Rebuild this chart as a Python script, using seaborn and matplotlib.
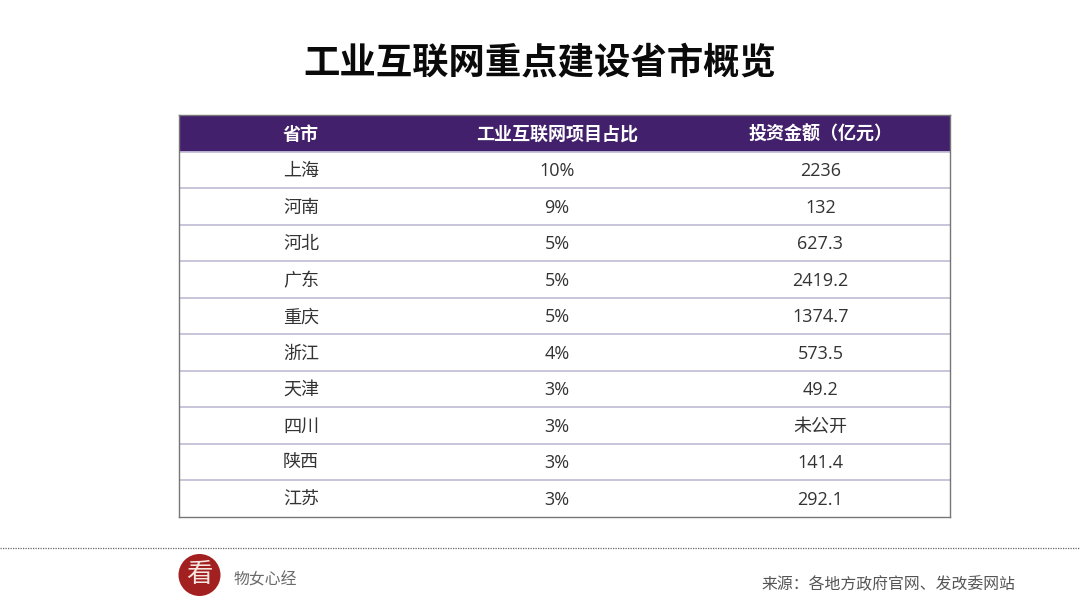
import matplotlib
matplotlib.use("Agg")
import matplotlib.pyplot as plt
from matplotlib.patches import Circle
import seaborn as sns

sns.set_theme(style="white")
plt.rcParams['font.family'] = ['Open Sans', 'Noto Sans CJK SC', 'DejaVu Sans']

title = "工业互联网重点建设省市概览"
headers = ["省市", "工业互联网项目占比", "投资金额（亿元）"]
provinces = ["上海", "河南", "河北", "广东", "重庆", "浙江", "天津", "四川", "陕西", "江苏"]
shares = ["10%", "9%", "5%", "5%", "5%", "4%", "3%", "3%", "3%", "3%"]
amounts = ["2236", "132", "627.3", "2419.2", "1374.7", "573.5", "49.2", "未公开", "141.4", "292.1"]
source = "来源：各地方政府官网、发改委网站"
brand = "物女心经"
logo_char = "看"

W, H = 1080, 607
fig = plt.figure(figsize=(W / 100, H / 100), dpi=100, facecolor="white")

# full-page pixel layer
bg = fig.add_axes([0, 0, 1, 1])
bg.set_xlim(0, W)
bg.set_ylim(H, 0)
bg.axis("off")
bg.text(540, 74, title, ha="center", va="baseline", fontsize=26.2, fontweight="bold", color="#0a0a0a")
bg.plot([0, W], [548, 548], color="#666666", lw=0.9, ls=(0, (1, 1)))
bg.add_patch(Circle((199.5, 575), 21, facecolor="#a32020", edgecolor="none"))
bg.text(199.5, 575, logo_char, ha="center", va="center", fontsize=19, color="#f5e6e0")
bg.text(234, 585, brand, ha="left", va="baseline", fontsize=11.4, color="#6a6a6a")
bg.text(1015, 589, source, ha="right", va="baseline", fontsize=11.4, color="#555555")

# table axes: x in pixels from table left, y in rows
ax = fig.add_axes([179 / W, 1 - 516.5 / H, 771 / W, 401.5 / H])
n = len(provinces) + 1
ax.set_xlim(0, 771)
ax.set_ylim(n, 0)
ax.set_xticks([])
ax.set_yticks([])
for s in ax.spines.values():
    s.set_color("#777777")
    s.set_linewidth(1.0)

ax.axhspan(0, 1, color="#42206b", lw=0)
for i in range(1, n):
    ax.axhline(i, color="#c4bfd8", lw=1.3)

centers = [122, 378, 641.5]
base = 0.68
for x, h in zip(centers, headers):
    ax.text(x, base, h, ha="center", va="baseline", fontsize=13, fontweight="bold", color="white")
for i, row in enumerate(zip(provinces, shares, amounts), start=1):
    for x, v in zip(centers, row):
        ax.text(x, i + base, v, ha="center", va="baseline", fontsize=13, color="#333333")

fig.savefig("out.png", dpi=100, facecolor="white")
